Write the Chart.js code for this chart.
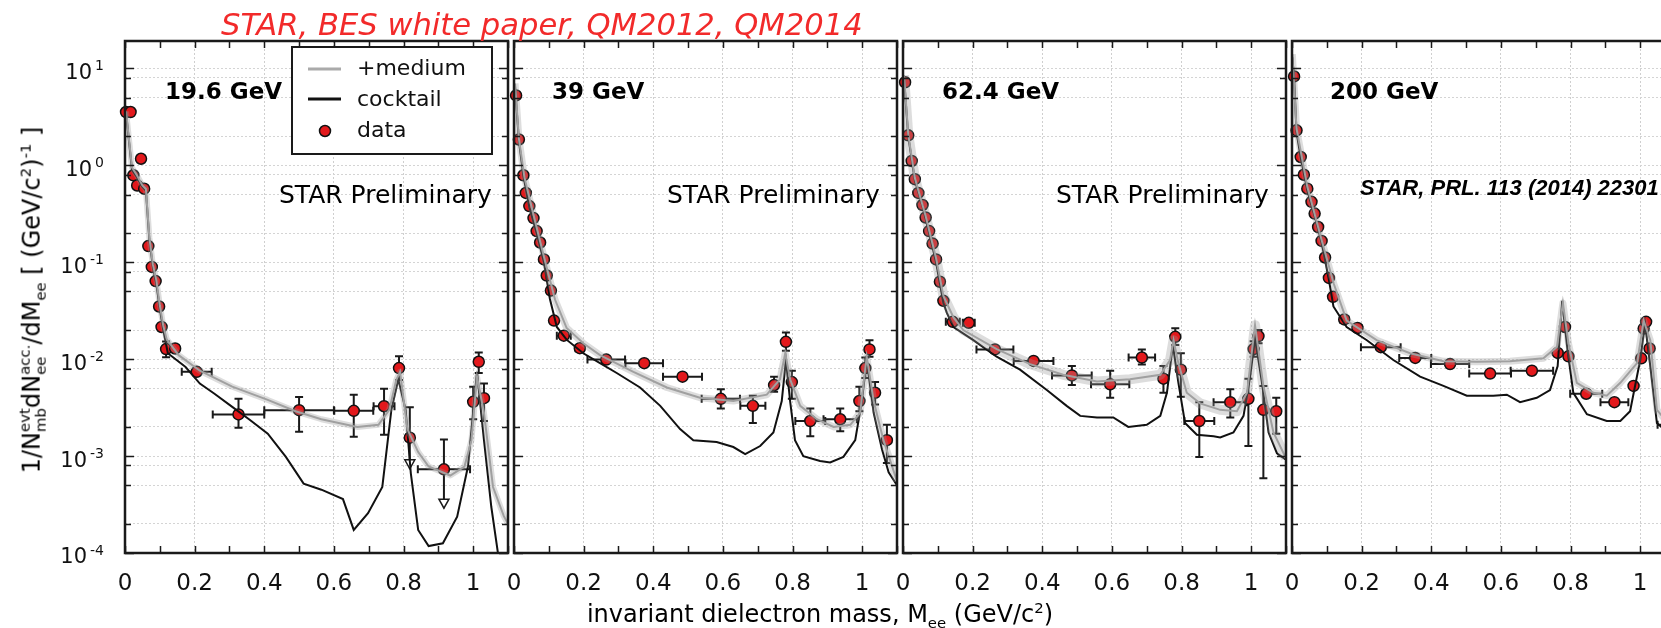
<!DOCTYPE html>
<html>
<head>
<meta charset="utf-8">
<script src="https://cdn.jsdelivr.net/npm/chart.js@4.4.0/dist/chart.umd.min.js"></script>
<style>
  html, body { margin: 0; padding: 0; background: #fff; width: 1661px; height: 628px; overflow: hidden; }
  canvas { position: absolute; left: 0; top: 0; }
  .lbl { position: absolute; white-space: nowrap; line-height: 1; font-family: 'DejaVu Sans'; color: #000; }
  .lbl sub, .lbl sup { font-size: 0.62em; line-height: 0; }
  .st { display: inline-flex; flex-direction: column; font-size: 0.62em; line-height: 1.1; vertical-align: 0.68em; }
</style>
</head>
<body>
<canvas id="p1" width="1700" height="628"></canvas>
<canvas id="p2" width="1700" height="628"></canvas>
<canvas id="p3" width="1700" height="628"></canvas>
<canvas id="p4" width="1700" height="628"></canvas>

<div class="lbl" style="left:221px; top:10px; font-size:30.6px; font-style:italic; color:#f22a2a;">STAR, BES white paper, QM2012, QM2014</div>
<div class="lbl" style="left:165px; top:80px; font-size:23px; font-weight:bold;">19.6 GeV</div>
<div class="lbl" style="left:552px; top:80px; font-size:23px; font-weight:bold;">39 GeV</div>
<div class="lbl" style="left:942px; top:80px; font-size:23px; font-weight:bold;">62.4 GeV</div>
<div class="lbl" style="left:1330px; top:80px; font-size:23px; font-weight:bold;">200 GeV</div>
<div class="lbl" style="left:279px; top:182px; font-size:25px;">STAR Preliminary</div>
<div class="lbl" style="left:667px; top:182px; font-size:25px;">STAR Preliminary</div>
<div class="lbl" style="left:1056px; top:182px; font-size:25px;">STAR Preliminary</div>
<div class="lbl" style="left:1360px; top:177px; font-size:22px; font-family:'Liberation Sans'; font-weight:bold; font-style:italic;">STAR, PRL. 113 (2014) 22301</div>
<div class="lbl" style="left:820px; top:602px; font-size:24px; transform:translateX(-50%);">invariant dielectron mass, M<sub>ee</sub> (GeV/c<sup>2</sup>)</div>
<div class="lbl" style="left:33px; top:300px; font-size:24px; transform:translate(-50%,-50%) rotate(-90deg);">1/N<span class="st"><span>evt</span><span>mb</span></span>dN<span class="st"><span>acc.</span><span>ee</span></span>/dM<sub>ee</sub> [ (GeV/c<sup>2</sup>)<sup>-1</sup> ]</div>

<script>
// 19.6 GeV
const mass196  = [0.003, 0.016, 0.024, 0.035, 0.046, 0.055, 0.067, 0.077, 0.088, 0.098, 0.105, 0.118, 0.144, 0.206, 0.326, 0.500, 0.657, 0.744, 0.787, 0.818, 0.916, 1.000, 1.016, 1.031];
const yield196 = [3.55, 3.55, 0.79, 0.62, 1.17, 0.575, 0.147, 0.0895, 0.064, 0.035, 0.0215, 0.0127, 0.0129, 0.0074, 0.00269, 0.00298, 0.00293, 0.00327, 0.0081, 0.00155, 0.00073, 0.00363, 0.0094, 0.00396];
const xErr196  = [0, 0, 0, 0, 0, 0, 0, 0, 0, 0, 0, 0.008, 0.01, 0.043, 0.074, 0.1, 0.056, 0.03, 0.01, 0.01, 0.075, 0, 0, 0];
const yLow196  = [null, null, null, null, null, null, null, null, null, null, null, 0.0105, null, null, 0.00196, 0.00178, 0.00158, 0.00166, 0.0061, 0.00074, 0.00029, 0.0024, 0.0072, 0.0023];
const yHigh196 = [null, null, null, null, null, null, null, null, null, null, null, 0.0152, null, null, 0.0039, 0.00408, 0.0043, 0.00496, 0.0107, 0.0032, 0.00148, 0.0052, 0.0117, 0.0056];
const upperLimits196 = [0.818, 0.916];
const cocktailM196 = [0.003, 0.02, 0.035, 0.05, 0.06, 0.07, 0.08, 0.09, 0.10, 0.11, 0.123, 0.174, 0.215, 0.257, 0.308, 0.359, 0.41, 0.462, 0.513, 0.564, 0.626, 0.657, 0.698, 0.739, 0.765, 0.785, 0.806, 0.821, 0.842, 0.872, 0.913, 0.954, 0.985, 1.011, 1.031, 1.052, 1.075];
const cocktailY196 = [3.5, 0.9, 0.75, 0.6, 0.55, 0.17, 0.09, 0.06, 0.033, 0.02, 0.0115, 0.0083, 0.0056, 0.0044, 0.00322, 0.00236, 0.0017, 0.00098, 0.00052, 0.00045, 0.00036, 0.000173, 0.000257, 0.00048, 0.003, 0.0062, 0.003, 0.00066, 0.000173, 0.000118, 0.000126, 0.000237, 0.00078, 0.0074, 0.00146, 0.0003, 0.00008];
const mediumM196 = [0.003, 0.02, 0.035, 0.05, 0.06, 0.07, 0.08, 0.09, 0.10, 0.11, 0.12, 0.154, 0.215, 0.308, 0.41, 0.49, 0.564, 0.667, 0.728, 0.759, 0.779, 0.79, 0.811, 0.842, 0.872, 0.934, 0.975, 0.995, 1.011, 1.031, 1.057, 1.088, 1.1];
const mediumY196 = [3.6, 0.95, 0.78, 0.62, 0.57, 0.18, 0.095, 0.065, 0.036, 0.022, 0.016, 0.011, 0.0076, 0.0052, 0.0038, 0.0029, 0.0024, 0.002, 0.0021, 0.003, 0.0061, 0.0074, 0.0019, 0.0011, 0.00078, 0.00063, 0.00078, 0.00146, 0.0066, 0.0028, 0.00048, 0.00024, 0.0002];

// 39 GeV
const mass39  = [0.006, 0.014, 0.027, 0.034, 0.044, 0.056, 0.065, 0.075, 0.086, 0.094, 0.106, 0.115, 0.143, 0.189, 0.265, 0.374, 0.484, 0.594, 0.686, 0.747, 0.781, 0.798, 0.851, 0.937, 0.992, 1.009, 1.021, 1.037, 1.071];
const yield39 = [5.27, 1.85, 0.79, 0.52, 0.38, 0.286, 0.21, 0.16, 0.107, 0.073, 0.051, 0.025, 0.0175, 0.013, 0.0099, 0.0091, 0.0066, 0.0039, 0.0033, 0.0054, 0.0151, 0.0058, 0.0023, 0.0024, 0.0037, 0.0081, 0.0126, 0.0045, 0.00146];
const xErr39  = [0, 0, 0, 0, 0, 0, 0, 0, 0, 0, 0, 0, 0.02, 0.012, 0.054, 0.054, 0.056, 0.055, 0.036, 0, 0, 0, 0.043, 0.048, 0, 0, 0, 0, 0];
const yLow39  = [null, null, null, null, null, null, null, null, null, null, null, null, null, null, null, null, null, 0.0031, 0.0022, 0.0046, 0.0122, 0.0039, 0.0016, 0.0018, 0.0029, 0.0064, 0.0106, 0.0034, 0.00085];
const yHigh39 = [null, null, null, null, null, null, null, null, null, null, null, null, null, null, null, null, null, 0.0049, 0.0042, 0.0066, 0.0188, 0.0076, 0.0031, 0.0031, 0.0052, 0.0104, 0.0157, 0.0058, 0.0021];
const cocktailM39 = [0.003, 0.014, 0.027, 0.044, 0.065, 0.086, 0.103, 0.123, 0.151, 0.199, 0.247, 0.295, 0.362, 0.42, 0.477, 0.515, 0.582, 0.63, 0.664, 0.707, 0.745, 0.769, 0.781, 0.793, 0.807, 0.831, 0.879, 0.908, 0.946, 0.98, 0.999, 1.013, 1.033, 1.057, 1.076, 1.1];
const cocktailY39 = [6.5, 1.8, 0.78, 0.37, 0.2, 0.1, 0.042, 0.0215, 0.0159, 0.0115, 0.0091, 0.0072, 0.0051, 0.0033, 0.0019, 0.00146, 0.0014, 0.00124, 0.00105, 0.00127, 0.00175, 0.0037, 0.0098, 0.0037, 0.00146, 0.001, 0.00089, 0.00086, 0.00098, 0.00146, 0.0037, 0.0098, 0.0028, 0.00117, 0.00068, 0.0005];
const mediumM39 = [0.003, 0.014, 0.03, 0.06, 0.09, 0.118, 0.151, 0.2, 0.247, 0.343, 0.439, 0.534, 0.63, 0.726, 0.764, 0.779, 0.793, 0.822, 0.87, 0.918, 0.966, 0.994, 1.013, 1.033, 1.061, 1.1];
const mediumY39 = [7.0, 1.9, 0.75, 0.27, 0.1, 0.041, 0.021, 0.0145, 0.011, 0.0074, 0.0051, 0.004, 0.0037, 0.0043, 0.0062, 0.0115, 0.0062, 0.0033, 0.0024, 0.002, 0.0021, 0.0028, 0.0106, 0.0037, 0.00146, 0.00055];

// 62.4 GeV
const mass624  = [0.006, 0.015, 0.025, 0.034, 0.044, 0.056, 0.065, 0.075, 0.085, 0.095, 0.106, 0.116, 0.143, 0.189, 0.264, 0.375, 0.485, 0.595, 0.686, 0.748, 0.782, 0.798, 0.851, 0.940, 0.992, 1.007, 1.021, 1.035, 1.072];
const yield624 = [7.2, 2.04, 1.11, 0.72, 0.52, 0.39, 0.29, 0.21, 0.156, 0.107, 0.063, 0.04, 0.0243, 0.0237, 0.0126, 0.0096, 0.0068, 0.0055, 0.0104, 0.0063, 0.017, 0.0078, 0.0023, 0.0036, 0.0039, 0.0127, 0.0173, 0.003, 0.0029];
const xErr624  = [0, 0, 0, 0, 0, 0, 0, 0, 0, 0, 0, 0, 0.02, 0.017, 0.053, 0.057, 0.057, 0.055, 0.038, 0, 0, 0, 0.043, 0.048, 0, 0, 0, 0, 0];
const yLow624  = [null, null, null, null, null, null, null, null, null, null, null, null, null, null, null, null, 0.0054, 0.004, 0.0088, 0.0045, 0.014, 0.0041, 0.00098, 0.0025, 0.00127, 0.0106, 0.0146, 0.00059, 0.0017];
const yHigh624 = [null, null, null, null, null, null, null, null, null, null, null, null, null, null, null, null, 0.0085, 0.0076, 0.0126, 0.0085, 0.0208, 0.0115, 0.0036, 0.0049, 0.0063, 0.0153, 0.02, 0.0053, 0.004];
const cocktailM624 = [0.003, 0.015, 0.034, 0.056, 0.075, 0.095, 0.116, 0.126, 0.145, 0.202, 0.269, 0.336, 0.413, 0.47, 0.509, 0.557, 0.604, 0.647, 0.7, 0.739, 0.758, 0.775, 0.791, 0.81, 0.844, 0.892, 0.911, 0.949, 0.978, 0.997, 1.011, 1.031, 1.05, 1.074, 1.1];
const cocktailY624 = [8.0, 2.0, 0.7, 0.38, 0.2, 0.1, 0.038, 0.03, 0.0215, 0.0157, 0.0106, 0.0078, 0.0048, 0.0033, 0.0026, 0.0025, 0.0025, 0.002, 0.0021, 0.0026, 0.0045, 0.014, 0.0057, 0.0022, 0.00166, 0.0016, 0.00156, 0.00175, 0.0026, 0.0066, 0.0164, 0.0057, 0.00175, 0.00107, 0.00092];
const mediumM624 = [0.003, 0.015, 0.034, 0.065, 0.095, 0.116, 0.145, 0.173, 0.269, 0.365, 0.46, 0.557, 0.652, 0.739, 0.767, 0.777, 0.791, 0.815, 0.853, 0.911, 0.959, 0.988, 1.011, 1.035, 1.064, 1.1];
const mediumY624 = [8.5, 2.1, 0.74, 0.3, 0.11, 0.045, 0.027, 0.02, 0.0127, 0.0089, 0.0069, 0.0059, 0.0062, 0.0069, 0.0098, 0.0157, 0.0091, 0.0045, 0.0035, 0.003, 0.0029, 0.0045, 0.0224, 0.0053, 0.00175, 0.00095];

// 200 GeV
const mass200  = [0.006, 0.013, 0.025, 0.034, 0.044, 0.056, 0.065, 0.075, 0.085, 0.095, 0.106, 0.118, 0.150, 0.188, 0.255, 0.354, 0.454, 0.569, 0.689, 0.763, 0.784, 0.794, 0.845, 0.926, 0.981, 1.003, 1.010, 1.017, 1.027, 1.080];
const yield200 = [8.27, 2.3, 1.22, 0.8, 0.575, 0.42, 0.318, 0.231, 0.166, 0.112, 0.069, 0.044, 0.0257, 0.021, 0.0133, 0.0103, 0.0089, 0.0071, 0.0076, 0.0116, 0.0215, 0.0107, 0.0044, 0.0036, 0.0053, 0.0102, 0.0207, 0.0243, 0.0129, 0.0021];
const xErr200  = [0, 0, 0, 0, 0, 0, 0, 0, 0, 0, 0, 0, 0.012, 0.012, 0.057, 0.046, 0.055, 0.06, 0.061, 0, 0, 0, 0.046, 0.04, 0, 0, 0, 0, 0, 0.03];
const yLow200  = [];
const yHigh200 = [];
const cocktailM200 = [0.001, 0.006, 0.013, 0.025, 0.044, 0.065, 0.085, 0.106, 0.119, 0.157, 0.215, 0.291, 0.368, 0.435, 0.502, 0.578, 0.617, 0.655, 0.703, 0.741, 0.763, 0.776, 0.791, 0.808, 0.847, 0.904, 0.943, 0.971, 1.0, 1.014, 1.029, 1.048, 1.1];
const cocktailY200 = [13, 8.0, 2.2, 1.2, 0.55, 0.3, 0.16, 0.066, 0.035, 0.0215, 0.0157, 0.0098, 0.0066, 0.0053, 0.0042, 0.0042, 0.0043, 0.0036, 0.004, 0.0048, 0.0085, 0.04, 0.0127, 0.0045, 0.0027, 0.0023, 0.0023, 0.0029, 0.0098, 0.0233, 0.0085, 0.0022, 0.0015];
const mediumM200 = [0.001, 0.013, 0.044, 0.085, 0.12, 0.157, 0.243, 0.339, 0.435, 0.531, 0.626, 0.722, 0.761, 0.778, 0.794, 0.818, 0.866, 0.904, 0.943, 0.991, 1.01, 1.029, 1.048, 1.1];
const mediumY200 = [14, 2.4, 0.6, 0.17, 0.06, 0.025, 0.0157, 0.0115, 0.0095, 0.0094, 0.0095, 0.0102, 0.0134, 0.038, 0.0146, 0.0057, 0.0045, 0.0042, 0.0057, 0.0091, 0.025, 0.0157, 0.003, 0.0018];

// axes
const xTickVals  = [0, 0.1, 0.2, 0.3, 0.4, 0.5, 0.6, 0.7, 0.8, 0.9, 1.0, 1.1];
const xLabelVals = [0, 0.2, 0.4, 0.6, 0.8, 1];
const yDecades   = [-4, -3, -2, -1, 0, 1];
const yMantissas = [1, 2, 5, 8];
const yMin = 1e-4, yMax = 19.2;

const panelLeft = [125, 514, 903, 1292];
const panelWidth = 383, panelTop = 41, panelBottom = 553, canvasW = 1700, canvasH = 628;

const yTickVals = [];
yDecades.forEach(d => yMantissas.forEach(m => {
  const v = m * Math.pow(10, d);
  if (v <= yMax) yTickVals.push(v);
}));

Chart.defaults.font.family = 'DejaVu Sans';

function pairs(xs, ys) { return xs.map((x, i) => ({ x: x, y: ys[i] })); }

function makePlugin(first) {
  return {
    id: 'panelDeco',
    beforeDatasetDraw(chart, args) {
      if (args.index !== 3) return;
      const { ctx, scales: { x, y } } = chart;
      const ds = chart.data.datasets[3];
      ctx.save();
      ctx.strokeStyle = '#1a1a1a';
      ctx.lineWidth = 2;
      ds.data.forEach((p, i) => {
        const e = ds.err[i];
        const px = x.getPixelForValue(p.x), py = y.getPixelForValue(p.y);
        ctx.beginPath();
        if (e.xe) {
          const a = x.getPixelForValue(p.x - e.xe), b = x.getPixelForValue(p.x + e.xe);
          ctx.moveTo(a, py); ctx.lineTo(b, py);
          ctx.moveTo(a, py - 4); ctx.lineTo(a, py + 4);
          ctx.moveTo(b, py - 4); ctx.lineTo(b, py + 4);
        }
        if (e.hi != null && e.lo != null) {
          const t = y.getPixelForValue(e.hi), bt = y.getPixelForValue(e.lo);
          ctx.moveTo(px, t); ctx.lineTo(px, bt);
          ctx.moveTo(px - 4, t); ctx.lineTo(px + 4, t);
          if (!e.lim) { ctx.moveTo(px - 4, bt); ctx.lineTo(px + 4, bt); }
        }
        ctx.stroke();
        if (e.lim) {
          const bt = y.getPixelForValue(e.lo);
          ctx.beginPath();
          ctx.moveTo(px - 5, bt - 9); ctx.lineTo(px + 5, bt - 9); ctx.lineTo(px, bt); ctx.closePath();
          ctx.fillStyle = '#fff'; ctx.fill();
          ctx.lineWidth = 1.5; ctx.stroke(); ctx.lineWidth = 2;
        }
      });
      ctx.restore();
    },
    afterDraw(chart) {
      const { ctx, chartArea: ca, scales: { x, y } } = chart;
      ctx.save();
      ctx.strokeStyle = '#1a1a1a';
      ctx.lineWidth = 1.5;
      ctx.beginPath();
      yTickVals.forEach(v => {
        const py = Math.round(y.getPixelForValue(v)) + 0.5;
        const len = yMantissas.indexOf(Math.round(v / Math.pow(10, Math.floor(Math.log10(v) + 1e-9)))) === 0 ? 9 : 6;
        ctx.moveTo(ca.left, py); ctx.lineTo(ca.left + len, py);
        ctx.moveTo(ca.right, py); ctx.lineTo(ca.right - len, py);
      });
      xTickVals.forEach(v => {
        const px = Math.round(x.getPixelForValue(v)) + 0.5;
        ctx.moveTo(px, ca.top); ctx.lineTo(px, ca.top + 7);
        ctx.moveTo(px, ca.bottom); ctx.lineTo(px, ca.bottom - 7);
      });
      ctx.stroke();
      ctx.lineWidth = 2.5;
      ctx.strokeRect(ca.left, ca.top, ca.right - ca.left, ca.bottom - ca.top);

      if (first) {
        // y tick labels 10^n
        ctx.fillStyle = '#111';
        ctx.textBaseline = 'middle';
        ctx.textAlign = 'right';
        yDecades.forEach(d => {
          const py = y.getPixelForValue(Math.pow(10, d));
          const exp = d < 0 ? '-' + (-d) : String(d);
          ctx.font = '14px "DejaVu Sans"';
          ctx.fillText(exp, 104, py - 2);
          const ew = ctx.measureText(exp).width;
          ctx.font = '21px "DejaVu Sans"';
          ctx.fillText('10', 104 - ew - 3, py + 5);
        });
        // legend
        const bx = 292, by = 47, bw = 200, bh = 107;
        ctx.fillStyle = '#fff';
        ctx.fillRect(bx, by, bw, bh);
        ctx.lineWidth = 2;
        ctx.strokeRect(bx, by, bw, bh);
        ctx.lineWidth = 3;
        ctx.strokeStyle = '#aaaaaa';
        ctx.beginPath(); ctx.moveTo(308, 69); ctx.lineTo(341, 69); ctx.stroke();
        ctx.strokeStyle = '#111';
        ctx.beginPath(); ctx.moveTo(308, 99); ctx.lineTo(341, 99); ctx.stroke();
        ctx.beginPath(); ctx.arc(325, 131, 5.5, 0, Math.PI * 2);
        ctx.fillStyle = '#e3191c'; ctx.fill();
        ctx.lineWidth = 1.5; ctx.stroke();
        ctx.fillStyle = '#111';
        ctx.textAlign = 'left';
        ctx.font = '22px "DejaVu Sans"';
        ctx.fillText('+medium', 357, 69);
        ctx.fillText('cocktail', 357, 100);
        ctx.fillText('data', 357, 131);
      }
      ctx.restore();
    }
  };
}

function makePanel(id, idx, m, v, xe, lo, hi, lims, cm, cy, mm, my, bandWidth) {
  const left = panelLeft[idx];
  const err = m.map((mv, i) => ({
    xe: xe[i] || 0,
    lo: lo[i] == null ? null : lo[i],
    hi: hi[i] == null ? null : hi[i],
    lim: lims.indexOf(mv) >= 0
  }));
  return new Chart(document.getElementById(id), {
    type: 'line',
    data: {
      datasets: [
        { data: pairs(mm, my), borderColor: 'rgba(150,150,150,0.32)', borderWidth: bandWidth, pointRadius: 0, borderJoinStyle: 'round' },
        { data: pairs(mm, my), borderColor: '#a6a6a6', borderWidth: 2, pointRadius: 0 },
        { data: pairs(cm, cy), borderColor: '#111', borderWidth: 2, pointRadius: 0 },
        { data: pairs(m, v), err: err, showLine: false, pointRadius: 5.5, pointBackgroundColor: '#e3191c',
          pointBorderColor: '#111', pointBorderWidth: 1.5, clip: 12 }
      ]
    },
    options: {
      responsive: false,
      animation: false,
      devicePixelRatio: 1,
      events: [],
      layout: { padding: { left: left, right: canvasW - left - panelWidth, top: panelTop, bottom: 0 } },
      elements: { line: { tension: 0 } },
      plugins: { legend: { display: false }, tooltip: { enabled: false } },
      scales: {
        x: {
          type: 'linear', min: 0, max: 1.1,
          afterFit: s => { s.height = canvasH - panelBottom; },
          afterBuildTicks: s => { s.ticks = xTickVals.map(t => ({ value: t })); },
          grid: {
            drawTicks: false, lineWidth: 1,
            color: c => (xLabelVals.indexOf(c.tick.value) > 0 ? '#cfcfcf' : 'rgba(0,0,0,0)')
          },
          border: { display: false, dash: [2, 2] },
          ticks: {
            autoSkip: false, maxRotation: 0, padding: 17, color: '#111',
            font: { family: 'DejaVu Sans', size: 23 },
            callback: t => (xLabelVals.indexOf(t) >= 0 ? String(t) : '')
          }
        },
        y: {
          type: 'logarithmic', min: yMin, max: yMax,
          afterFit: s => { s.width = 0; },
          afterBuildTicks: s => { s.ticks = yTickVals.map(t => ({ value: t })); },
          grid: { drawTicks: false, color: '#d4d4d4', lineWidth: 1 },
          border: { display: false, dash: [2, 2] },
          ticks: { display: false }
        }
      }
    },
    plugins: [makePlugin(idx === 0)]
  });
}

makePanel('p1', 0, mass196, yield196, xErr196, yLow196, yHigh196, upperLimits196, cocktailM196, cocktailY196, mediumM196, mediumY196, 6);
makePanel('p2', 1, mass39, yield39, xErr39, yLow39, yHigh39, [], cocktailM39, cocktailY39, mediumM39, mediumY39, 7);
makePanel('p3', 2, mass624, yield624, xErr624, yLow624, yHigh624, [], cocktailM624, cocktailY624, mediumM624, mediumY624, 10);
makePanel('p4', 3, mass200, yield200, xErr200, yLow200, yHigh200, [], cocktailM200, cocktailY200, mediumM200, mediumY200, 7);
</script>
</body>
</html>
